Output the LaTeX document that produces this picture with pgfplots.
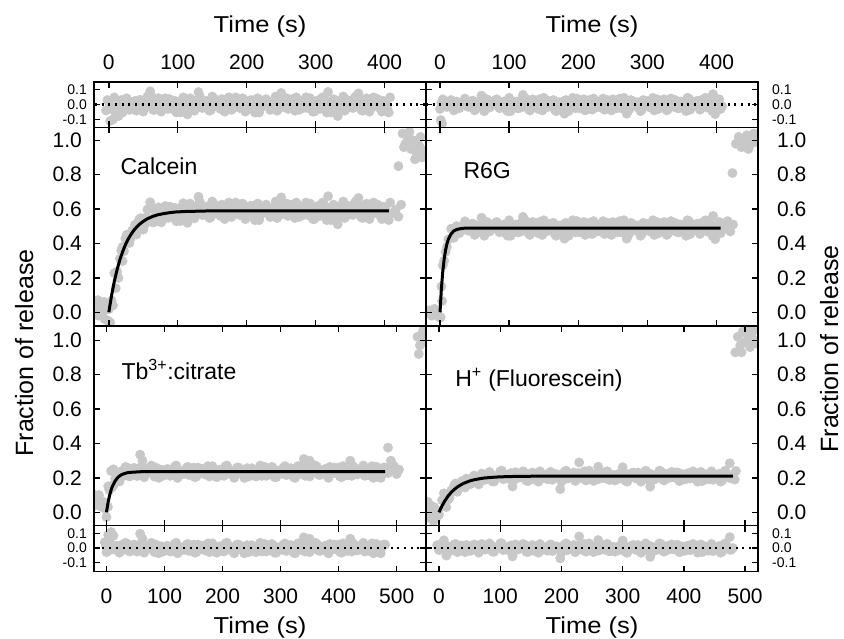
\documentclass[border=0pt]{standalone}
\usepackage{pgfplots}
\pgfplotsset{compat=1.18}
\usepackage{fontspec}
\setmainfont{Liberation Sans}
\definecolor{dotgray}{RGB}{200,200,200}
\tikzset{lab/.style={anchor=base west, font=\fontsize{23bp}{23bp}\selectfont}}
\pgfplotsset{
  panel/.style={
    scale only axis, width=332bp,
    axis line style={line width=1.4bp, black},
    tick style={black, line width=1.4bp},
    major tick length=6bp,
    tick align=inside,
    axis on top,
    clip marker paths=true,
    every tick label/.append style={inner sep=0pt},
    tick label style={font=\fontsize{21bp}{21bp}\selectfont},
  },
  resid/.style={panel, ytick={-0.1,0,0.1}, yticklabels={-0.1,0.0,0.1},
    yticklabel style={font=\fontsize{14bp}{14bp}\selectfont}},
  mainp/.style={panel, ytick={0,0.2,0.4,0.6,0.8,1.0}, yticklabels={0.0,0.2,0.4,0.6,0.8,1.0}},
  dots/.style={dotgray, only marks, mark=*, mark size=4.7bp, mark options={draw=dotgray, fill=dotgray}},
  fit/.style={black, line width=3bp, no marks},
  zero/.style={black, line width=2.4bp, dash pattern=on 2bp off 4.7bp, no marks},
}
\begin{document}
\begin{tikzpicture}
\path[use as bounding box] (0,0) rectangle (844bp,639bp);

% ---------------- titles ----------------
\node[anchor=base, xscale=1.11, font=\fontsize{23bp}{23bp}\selectfont] at (260bp,606.7bp) {Time (s)};
\node[anchor=base, xscale=1.11, font=\fontsize{23bp}{23bp}\selectfont] at (592bp,606.7bp) {Time (s)};
\node[anchor=base, xscale=1.11, font=\fontsize{23bp}{23bp}\selectfont] at (260bp,6bp) {Time (s)};
\node[anchor=base, xscale=1.11, font=\fontsize{23bp}{23bp}\selectfont] at (592bp,6bp) {Time (s)};
\node[anchor=base, rotate=90, inner sep=0pt, font=\fontsize{25bp}{25bp}\selectfont] at (33bp,286bp) {Fraction of release};
\node[anchor=base, rotate=90, inner sep=0pt, font=\fontsize{25bp}{25bp}\selectfont] at (838bp,290bp) {Fraction of release};

% ================= LEFT COLUMN =================
% top residual (Calcein)
\begin{axis}[resid, at={(94bp,557bp)}, anchor=north west, height=45.3bp,
  xmin=-21.5, xmax=460, ymin=-0.154, ymax=0.152,
  xtick={0,100,200,300,400}, xticklabels={0,100,200,300,400},
  xticklabel pos=upper, xticklabel shift=12bp,
  yticklabel pos=left, yticklabel shift=7bp]
\addplot[dots] coordinates {
(0,0.018)(4,-0.030)(8,0.048)(12,-0.012)(16,0.006)(20,-0.054)(24,0.036)(28,0.024)(32,-0.018)(36,0.000)
(40,-0.042)(44,0.030)(48,0.012)(52,-0.024)(56,0.054)(60,-0.006)(64,-0.036)(68,0.018)(72,0.042)(76,-0.048)
(80,0.006)(84,-0.012)(88,0.036)(92,-0.030)(96,0.024)(100,0.000)(104,-0.054)(108,0.048)(112,-0.018)(116,0.012)
(120,0.030)(124,-0.042)(128,0.006)(132,0.054)(136,-0.024)(140,-0.006)(144,0.018)(148,-0.036)(152,0.042)(156,-0.012)
(160,0.000)(164,0.036)(168,-0.048)(172,0.024)(176,-0.030)(180,0.012)(184,0.048)(188,-0.018)(192,-0.006)(196,0.030)
(200,-0.036)(204,0.018)(208,0.006)(212,-0.054)(216,0.042)(220,-0.024)(224,0.012)(228,0.036)(232,-0.012)(236,0.000)
(240,0.024)(244,-0.042)(248,0.054)(252,-0.006)(256,0.018)(260,-0.030)(264,0.030)(268,-0.018)(272,0.048)(276,-0.036)
(280,0.012)(284,0.000)(288,-0.024)(292,0.042)(296,-0.048)(300,0.006)(304,0.030)(308,-0.012)(312,0.036)(316,-0.054)
(320,0.018)(324,-0.006)(328,0.024)(332,-0.036)(336,0.012)(340,0.054)(344,-0.030)(348,0.000)(352,-0.018)(356,0.042)
(360,-0.012)(364,0.036)(368,-0.042)(372,0.006)(376,0.024)(380,-0.024)(384,0.048)(388,-0.006)(392,0.018)(396,-0.048)
(400,0.018)(404,-0.030)(408,0.048)
(2,-0.111)(6,-0.101)(10,-0.075)(-4,-0.040)(-2,0.030)(130,0.084)(250,0.078)(318,0.085)(362,0.075)
(114,-0.067)(332,-0.078)(60,0.089)(20,0.028)(14,-0.078)
(18,0.030)(22,-0.018)(26,0.042)(30,-0.036)(34,0.012)(38,0.024)
(42,-0.018)(46,0.030)(50,-0.048)(54,0.012)(58,-0.006)(62,0.054)(66,-0.036)(70,-0.024)(74,0.018)(78,0.000)
(82,0.042)(86,-0.030)(90,-0.012)(94,0.024)(98,-0.054)
(102,-0.036)(106,0.018)(110,0.006)(114,-0.054)(118,0.042)(122,-0.024)(126,0.012)(130,0.036)(134,-0.012)(138,0.000)
(142,0.024)(146,-0.042)(150,0.054)(154,-0.006)(158,0.018)(162,-0.030)(166,0.030)(170,-0.018)(174,0.048)(178,-0.036)
(182,0.012)(186,0.000)(190,-0.024)(194,0.042)(198,-0.048)(202,0.006)(206,0.030)(210,-0.012)(214,0.036)(218,-0.054)
(222,0.018)(226,-0.006)(230,0.024)(234,-0.036)(238,0.012)(242,0.054)(246,-0.030)(250,0.000)(254,-0.018)(258,0.042)
(262,-0.012)(266,0.036)(270,-0.042)(274,0.006)(278,0.024)(282,-0.024)(286,0.048)(290,-0.006)(294,0.018)(298,-0.048)
(302,0.018)(306,-0.030)(310,0.048)(314,-0.012)(318,0.006)(322,-0.054)(326,0.036)(330,0.024)(334,-0.018)(338,0.000)
(342,-0.042)(346,0.030)(350,0.012)(354,-0.024)(358,0.054)(362,-0.006)(366,-0.036)(370,0.018)(374,0.042)(378,-0.048)
(382,0.006)(386,-0.012)(390,0.036)(394,-0.030)(398,0.024)(402,0.000)(406,-0.054)
};
\addplot[zero] coordinates {(-30,0) (600,0)};
\end{axis}

% Calcein
\begin{axis}[mainp, at={(94bp,511.7bp)}, anchor=north west, height=198.7bp,
  xmin=-21.5, xmax=460, ymin=-0.08, ymax=1.076,
  xtick={0,100,200,300,400}, xticklabels={},
  yticklabel pos=left, yticklabel shift=12bp]
\addplot[dots] coordinates {
(-18,0.030)(-15,-0.020)(-12,0.050)(-9,0.000)(-6,-0.040)(-3,0.020)(-1,-0.050)(-16,0.070)(-7,0.060)
(0,0.018)(4,0.068)(8,0.228)(12,0.236)(16,0.311)(20,0.298)(24,0.428)(28,0.449)(32,0.434)(36,0.475)
(40,0.452)(44,0.540)(48,0.535)(52,0.510)(56,0.598)(60,0.545)(64,0.522)(68,0.581)(72,0.610)(76,0.523)
(80,0.580)(84,0.565)(88,0.615)(92,0.551)(96,0.607)(100,0.584)(104,0.531)(108,0.634)(112,0.568)(116,0.599)
(120,0.617)(124,0.546)(128,0.594)(132,0.642)(136,0.565)(140,0.583)(144,0.607)(148,0.553)(152,0.632)(156,0.578)
(160,0.590)(164,0.626)(168,0.542)(172,0.614)(176,0.560)(180,0.602)(184,0.638)(188,0.572)(192,0.584)(196,0.620)
(200,0.554)(204,0.608)(208,0.596)(212,0.536)(216,0.632)(220,0.566)(224,0.602)(228,0.626)(232,0.578)(236,0.590)
(240,0.614)(244,0.548)(248,0.644)(252,0.584)(256,0.608)(260,0.560)(264,0.620)(268,0.572)(272,0.638)(276,0.554)
(280,0.602)(284,0.590)(288,0.566)(292,0.632)(296,0.542)(300,0.596)(304,0.620)(308,0.578)(312,0.626)(316,0.536)
(320,0.608)(324,0.584)(328,0.614)(332,0.554)(336,0.602)(340,0.644)(344,0.560)(348,0.590)(352,0.572)(356,0.632)
(360,0.578)(364,0.626)(368,0.548)(372,0.596)(376,0.614)(380,0.566)(384,0.638)(388,0.584)(392,0.608)(396,0.542)
(400,0.608)(404,0.560)(408,0.638)(412,0.578)(416,0.596)(420,0.556)(424,0.626)
(130,0.672)(250,0.668)(318,0.675)(362,0.665)(114,0.520)(332,0.512)(60,0.640)(20,0.380)(14,0.200)
(2,-0.060)(6,0.040)(10,0.140)
(18,0.360)(22,0.355)(26,0.451)(30,0.403)(34,0.476)(38,0.509)
(42,0.485)(46,0.547)(50,0.481)(54,0.551)(58,0.542)(62,0.609)(66,0.525)(70,0.542)(74,0.588)(78,0.573)
(82,0.618)(86,0.548)(90,0.568)(94,0.606)(98,0.529)
(102,0.554)(106,0.608)(110,0.596)(114,0.536)(118,0.632)(122,0.566)(126,0.602)(130,0.626)(134,0.578)(138,0.590)
(142,0.614)(146,0.548)(150,0.644)(154,0.584)(158,0.608)(162,0.560)(166,0.620)(170,0.572)(174,0.638)(178,0.554)
(182,0.602)(186,0.590)(190,0.566)(194,0.632)(198,0.542)(202,0.596)(206,0.620)(210,0.578)(214,0.626)(218,0.536)
(222,0.608)(226,0.584)(230,0.614)(234,0.554)(238,0.602)(242,0.644)(246,0.560)(250,0.590)(254,0.572)(258,0.632)
(262,0.578)(266,0.626)(270,0.548)(274,0.596)(278,0.614)(282,0.566)(286,0.638)(290,0.584)(294,0.608)(298,0.542)
(302,0.608)(306,0.560)(310,0.638)(314,0.578)(318,0.596)(322,0.536)(326,0.626)(330,0.614)(334,0.572)(338,0.590)
(342,0.548)(346,0.620)(350,0.602)(354,0.566)(358,0.644)(362,0.584)(366,0.554)(370,0.608)(374,0.632)(378,0.542)
(382,0.596)(386,0.578)(390,0.626)(394,0.560)(398,0.614)(402,0.590)(406,0.536)
(420,0.850)(426,1.040)(430,0.980)(434,1.010)(438,0.950)(442,1.000)(446,0.930)(450,0.970)(454,0.900)
(458,0.940)(428,0.960)(436,1.050)(444,0.890)(452,1.020)
};
\addplot[fit] coordinates {
(0,0)(4,0.098)(8,0.180)(12,0.248)(16,0.305)(20,0.352)(24,0.392)(28,0.425)(32,0.452)(36,0.475)(40,0.494)
(44,0.510)(48,0.523)(52,0.534)(56,0.544)(60,0.551)(64,0.558)(68,0.563)(72,0.568)(76,0.571)(80,0.574)
(88,0.579)(96,0.583)(110,0.586)(120,0.587)(140,0.589)(160,0.590)(406,0.590)
};
\node[lab] at (axis cs:12,0.80) {Calcein};
\end{axis}

% Tb citrate
\begin{axis}[mainp, at={(94bp,313bp)}, anchor=north west, height=199.7bp,
  xmin=-21.5, xmax=550.5, ymin=-0.078, ymax=1.083,
  xtick={0,100,200,300,400,500}, xticklabels={},
  yticklabel pos=left, yticklabel shift=12bp]
\addplot[dots] coordinates {
(-20,0.100)(-17,0.080)(-14,0.050)(-11,0.070)(-8,0.030)(-5,0.060)(-2,0.020)(-19,0.040)(-13,0.100)
(0,-0.028)(5,0.129)(10,0.145)(15,0.195)(20,0.184)(25,0.237)(30,0.212)(35,0.261)(40,0.208)(45,0.241)
(50,0.234)(55,0.219)(60,0.264)(65,0.204)(70,0.240)(75,0.256)(80,0.228)(85,0.260)(90,0.200)(95,0.248)
(100,0.232)(105,0.252)(110,0.212)(115,0.244)(120,0.272)(125,0.216)(130,0.236)(135,0.224)(140,0.264)(145,0.228)
(150,0.260)(155,0.208)(160,0.240)(165,0.252)(170,0.220)(175,0.268)(180,0.232)(185,0.248)(190,0.204)(195,0.248)
(200,0.216)(205,0.268)(210,0.228)(215,0.240)(220,0.200)(225,0.260)(230,0.252)(235,0.224)(240,0.236)(245,0.208)
(250,0.256)(255,0.244)(260,0.220)(265,0.272)(270,0.232)(275,0.212)(280,0.248)(285,0.264)(290,0.204)(295,0.240)
(300,0.228)(305,0.260)(310,0.216)(315,0.252)(320,0.236)(325,0.200)(330,0.268)(335,0.224)(340,0.244)(345,0.256)
(350,0.208)(355,0.240)(360,0.272)(365,0.220)(370,0.232)(375,0.248)(380,0.212)(385,0.264)(390,0.228)(395,0.236)
(400,0.260)(405,0.204)(410,0.252)(415,0.216)(420,0.244)(425,0.268)(430,0.224)(435,0.232)(440,0.256)(445,0.212)
(450,0.248)(455,0.240)(460,0.200)(465,0.264)(470,0.220)(475,0.244)(480,0.260)(485,0.228)(490,0.250)(495,0.270)
(500,0.222)(504,0.248)
(58,0.335)(340,0.310)(350,0.300)(485,0.376)(490,0.300)(8,0.240)(12,0.250)(62,0.300)(420,0.300)(3,0.151)
(2.5,0.032)(7.5,0.152)(12.5,0.160)(17.5,0.211)(22.5,0.179)(27.5,0.233)(32.5,0.263)(37.5,0.214)(42.5,0.237)
(47.5,0.258)(52.5,0.211)(57.5,0.243)
(62.5,0.260)(67.5,0.224)(72.5,0.232)(77.5,0.272)(82.5,0.208)(87.5,0.252)(92.5,0.228)(97.5,0.212)(102.5,0.244)(107.5,0.236)
(112.5,0.220)(117.5,0.264)(122.5,0.200)(127.5,0.240)(132.5,0.224)(137.5,0.256)(142.5,0.216)(147.5,0.248)(152.5,0.204)(157.5,0.260)
(162.5,0.228)(167.5,0.236)(172.5,0.252)(177.5,0.208)(182.5,0.268)(187.5,0.232)(192.5,0.216)(197.5,0.244)(202.5,0.212)(207.5,0.272)
(212.5,0.224)(217.5,0.240)(222.5,0.220)(227.5,0.260)(232.5,0.228)(237.5,0.200)(242.5,0.256)(247.5,0.236)(252.5,0.248)(257.5,0.208)
(262.5,0.244)(267.5,0.212)(272.5,0.264)(277.5,0.232)(282.5,0.220)(287.5,0.252)(292.5,0.204)(297.5,0.240)(302.5,0.224)(307.5,0.268)
(312.5,0.224)(317.5,0.256)(322.5,0.204)(327.5,0.244)(332.5,0.232)(337.5,0.272)(342.5,0.212)(347.5,0.220)(352.5,0.248)(357.5,0.236)
(362.5,0.264)(367.5,0.216)(372.5,0.228)(377.5,0.252)(382.5,0.200)(387.5,0.240)(392.5,0.260)(397.5,0.224)(402.5,0.208)(407.5,0.268)
(412.5,0.232)(417.5,0.244)(422.5,0.212)(427.5,0.256)(432.5,0.220)(437.5,0.236)(442.5,0.272)(447.5,0.248)(452.5,0.216)(457.5,0.268)
(462.5,0.228)(467.5,0.240)(472.5,0.200)(477.5,0.260)
(536,1.020)(540,0.970)(544,1.040)(548,0.990)(538,0.920)(546,1.060)(550,1.000)
};
\addplot[fit] coordinates {
(0,0)(2.5,0.052)(5,0.093)(7.5,0.124)(10,0.149)(15,0.183)(20,0.204)(25,0.217)(30,0.224)(35,0.229)
(40,0.232)(50,0.234)(60,0.236)(480,0.236)
};
\node[lab] at (axis cs:20,0.77) {Tb\textsuperscript{3+}:citrate};
\end{axis}

% bottom residual (Tb)
\begin{axis}[resid, at={(94bp,113.3bp)}, anchor=north west, height=46bp,
  xmin=-21.5, xmax=550.5, ymin=-0.163, ymax=0.154,
  xtick={0,100,200,300,400,500}, xticklabels={0,100,200,300,400,500},
  xticklabel pos=lower, xticklabel shift=16.6bp,
  yticklabel pos=left, yticklabel shift=7bp]
\addplot[dots] coordinates {
(0,-0.028)(5,0.036)(10,-0.004)(15,0.012)(20,-0.020)(25,0.020)(30,-0.012)(35,0.032)(40,-0.024)(45,0.008)
(50,0.000)(55,-0.016)(60,0.028)(65,-0.032)(70,0.004)(75,0.020)(80,-0.008)(85,0.024)(90,-0.036)(95,0.012)
(100,-0.004)(105,0.016)(110,-0.024)(115,0.008)(120,0.036)(125,-0.020)(130,0.000)(135,-0.012)(140,0.028)(145,-0.008)
(150,0.024)(155,-0.028)(160,0.004)(165,0.016)(170,-0.016)(175,0.032)(180,-0.004)(185,0.012)(190,-0.032)(195,0.012)
(200,-0.020)(205,0.032)(210,-0.008)(215,0.004)(220,-0.036)(225,0.024)(230,0.016)(235,-0.012)(240,0.000)(245,-0.028)
(250,0.020)(255,0.008)(260,-0.016)(265,0.036)(270,-0.004)(275,-0.024)(280,0.012)(285,0.028)(290,-0.032)(295,0.004)
(300,-0.008)(305,0.024)(310,-0.020)(315,0.016)(320,0.000)(325,-0.036)(330,0.032)(335,-0.012)(340,0.008)(345,0.020)
(350,-0.028)(355,0.004)(360,0.036)(365,-0.016)(370,-0.004)(375,0.012)(380,-0.024)(385,0.028)(390,-0.008)(395,0.000)
(400,0.024)(405,-0.032)(410,0.016)(415,-0.020)(420,0.008)(425,0.032)(430,-0.012)(435,-0.004)(440,0.020)(445,-0.024)
(450,0.012)(455,0.004)(460,-0.036)(465,0.028)(470,-0.016)(475,0.008)(480,0.024)
(58,0.099)(340,0.074)(350,0.064)(62,0.064)(420,0.064)(8,0.110)(12,0.085)(3,0.090)(-3,0.040)(-1,0.020)
(2.5,-0.020)(7.5,0.028)(12.5,-0.008)(17.5,0.016)(22.5,-0.032)(27.5,0.012)(32.5,0.036)(37.5,-0.016)(42.5,0.004)
(47.5,0.024)(52.5,-0.024)(57.5,0.008)
(62.5,0.024)(67.5,-0.012)(72.5,-0.004)(77.5,0.036)(82.5,-0.028)(87.5,0.016)(92.5,-0.008)(97.5,-0.024)(102.5,0.008)(107.5,0.000)
(112.5,-0.016)(117.5,0.028)(122.5,-0.036)(127.5,0.004)(132.5,-0.012)(137.5,0.020)(142.5,-0.020)(147.5,0.012)(152.5,-0.032)(157.5,0.024)
(162.5,-0.008)(167.5,0.000)(172.5,0.016)(177.5,-0.028)(182.5,0.032)(187.5,-0.004)(192.5,-0.020)(197.5,0.008)(202.5,-0.024)(207.5,0.036)
(212.5,-0.012)(217.5,0.004)(222.5,-0.016)(227.5,0.024)(232.5,-0.008)(237.5,-0.036)(242.5,0.020)(247.5,0.000)(252.5,0.012)(257.5,-0.028)
(262.5,0.008)(267.5,-0.024)(272.5,0.028)(277.5,-0.004)(282.5,-0.016)(287.5,0.016)(292.5,-0.032)(297.5,0.004)(302.5,-0.012)(307.5,0.032)
(312.5,-0.012)(317.5,0.020)(322.5,-0.032)(327.5,0.008)(332.5,-0.004)(337.5,0.036)(342.5,-0.024)(347.5,-0.016)(352.5,0.012)(357.5,0.000)
(362.5,0.028)(367.5,-0.020)(372.5,-0.008)(377.5,0.016)(382.5,-0.036)(387.5,0.004)(392.5,0.024)(397.5,-0.012)(402.5,-0.028)(407.5,0.032)
(412.5,-0.004)(417.5,0.008)(422.5,-0.024)(427.5,0.020)(432.5,-0.016)(437.5,0.000)(442.5,0.036)(447.5,0.012)(452.5,-0.020)(457.5,0.032)
(462.5,-0.008)(467.5,0.004)(472.5,-0.036)(477.5,0.024)
};
\addplot[zero] coordinates {(-30,0) (600,0)};
\end{axis}

% ================= RIGHT COLUMN =================
% top residual (R6G)
\begin{axis}[resid, at={(426bp,557bp)}, anchor=north west, height=45.3bp,
  xmin=-20.3, xmax=460, ymin=-0.154, ymax=0.152,
  xtick={0,100,200,300,400}, xticklabels={0,100,200,300,400},
  xticklabel pos=upper, xticklabel shift=12bp,
  yticklabel pos=right, yticklabel shift=14bp]
\addplot[dots] coordinates {
(0,-0.030)(4,0.035)(8,-0.010)(12,0.000)(16,0.030)(20,-0.040)(24,0.020)(28,-0.025)(32,0.010)(36,0.040)
(40,-0.015)(44,-0.005)(48,0.025)(52,-0.030)(56,0.015)(60,0.005)(64,-0.045)(68,0.035)(72,-0.020)(76,0.010)
(80,0.030)(84,-0.010)(88,0.000)(92,0.020)(96,-0.035)(100,0.045)(104,-0.005)(108,0.015)(112,-0.025)(116,0.025)
(120,-0.015)(124,0.040)(128,-0.030)(132,0.010)(136,0.000)(140,-0.020)(144,0.035)(148,-0.040)(152,0.005)(156,0.025)
(160,-0.010)(164,0.030)(168,-0.045)(172,0.015)(176,-0.005)(180,0.020)(184,-0.030)(188,0.010)(192,0.045)(196,-0.025)
(200,0.000)(204,-0.015)(208,0.035)(212,-0.010)(216,0.030)(220,-0.035)(224,0.005)(228,0.020)(232,-0.020)(236,0.040)
(240,-0.005)(244,0.015)(248,-0.040)(252,0.015)(256,-0.025)(260,0.040)(264,-0.010)(268,0.005)(272,-0.045)(276,0.030)
(280,0.020)(284,-0.015)(288,0.000)(292,-0.035)(296,0.025)(300,0.010)(304,-0.020)(308,0.045)(312,-0.005)(316,-0.030)
(320,0.015)(324,0.035)(328,-0.040)(332,0.005)(336,-0.010)(340,0.030)(344,-0.025)(348,0.020)(352,0.000)(356,-0.045)
(360,0.040)(364,-0.015)(368,0.010)(372,0.025)(376,-0.035)(380,0.005)(384,0.045)(388,-0.020)(392,-0.005)(396,0.015)
(400,-0.030)(404,0.035)(408,-0.010)
(2,0.011)(6,-0.010)(10,-0.017)(120,0.065)(395,0.070)(398,-0.065)(270,-0.062)(60,0.060)(180,-0.062)
(1,-0.105)(3,-0.128)
(42,-0.015)(46,0.025)(50,-0.040)(54,0.010)(58,-0.005)(62,0.045)(66,-0.030)(70,-0.020)(74,0.015)(78,0.000)
(82,0.035)(86,-0.025)(90,-0.010)(94,0.020)(98,-0.045)
(102,-0.045)(106,0.000)(110,0.020)(114,-0.025)(118,0.030)(122,-0.010)(126,0.005)(130,-0.040)(134,0.035)(138,0.015)
(142,-0.030)(146,-0.005)(150,0.045)(154,-0.020)(158,0.010)(162,0.025)(166,-0.035)(170,0.000)(174,-0.015)(178,0.020)
(182,0.030)(186,-0.045)(190,0.005)(194,-0.010)(198,0.040)(202,-0.025)(206,0.015)(210,-0.040)(214,0.015)(218,-0.005)
(222,0.040)(226,-0.020)(230,0.020)(234,0.005)(238,-0.035)(242,0.030)(246,-0.010)(250,0.035)(254,-0.015)(258,0.000)
(262,-0.025)(266,0.045)(270,0.010)(274,-0.030)(278,0.020)(282,-0.005)(286,0.015)(290,-0.045)(294,0.030)(298,-0.010)
(302,0.025)(306,0.005)(310,-0.040)(314,0.035)(318,-0.020)(322,0.000)(326,0.010)(330,-0.030)(334,0.040)(338,-0.015)
(342,0.025)(346,-0.025)(350,0.015)(354,-0.005)(358,0.045)(362,-0.035)(366,0.020)(370,0.000)(374,-0.010)(378,0.030)
(382,0.010)(386,-0.020)(390,0.035)(394,-0.045)(398,0.005)(402,0.015)(406,-0.030)
};
\addplot[zero] coordinates {(-30,0) (600,0)};
\end{axis}

% R6G
\begin{axis}[mainp, at={(426bp,511.7bp)}, anchor=north west, height=198.7bp,
  xmin=-20.3, xmax=460, ymin=-0.08, ymax=1.076,
  xtick={0,100,200,300,400}, xticklabels={},
  yticklabel pos=right, yticklabel shift=19bp]
\addplot[dots] coordinates {
(-16,0.010)(-12,-0.020)(-8,0.020)(-4,0.000)(-1,-0.030)
(0,-0.030)(4,0.273)(8,0.351)(12,0.424)(16,0.486)(20,0.433)(24,0.501)(28,0.460)(32,0.498)(36,0.529)
(40,0.475)(44,0.485)(48,0.515)(52,0.460)(56,0.505)(60,0.495)(64,0.445)(68,0.525)(72,0.470)(76,0.500)
(80,0.520)(84,0.480)(88,0.490)(92,0.510)(96,0.455)(100,0.535)(104,0.485)(108,0.505)(112,0.465)(116,0.515)
(120,0.475)(124,0.530)(128,0.460)(132,0.500)(136,0.490)(140,0.470)(144,0.525)(148,0.450)(152,0.495)(156,0.515)
(160,0.480)(164,0.520)(168,0.445)(172,0.505)(176,0.485)(180,0.510)(184,0.460)(188,0.500)(192,0.535)(196,0.465)
(200,0.490)(204,0.475)(208,0.525)(212,0.480)(216,0.520)(220,0.455)(224,0.495)(228,0.510)(232,0.470)(236,0.530)
(240,0.485)(244,0.505)(248,0.450)(252,0.505)(256,0.465)(260,0.530)(264,0.480)(268,0.495)(272,0.445)(276,0.520)
(280,0.510)(284,0.475)(288,0.490)(292,0.455)(296,0.515)(300,0.500)(304,0.470)(308,0.535)(312,0.485)(316,0.460)
(320,0.505)(324,0.525)(328,0.450)(332,0.495)(336,0.480)(340,0.520)(344,0.465)(348,0.510)(352,0.490)(356,0.445)
(360,0.530)(364,0.475)(368,0.500)(372,0.515)(376,0.455)(380,0.495)(384,0.535)(388,0.470)(392,0.485)(396,0.505)
(400,0.460)(404,0.525)(408,0.480)(412,0.500)(416,0.530)(420,0.470)(424,0.510)
(2,0.150)(6,0.300)(10,0.380)(120,0.555)(395,0.560)(398,0.425)(270,0.428)(60,0.550)(180,0.428)
(1,-0.030)(3,0.065)
(42,0.475)(46,0.515)(50,0.450)(54,0.500)(58,0.485)(62,0.535)(66,0.460)(70,0.470)(74,0.505)(78,0.490)
(82,0.525)(86,0.465)(90,0.480)(94,0.510)(98,0.445)
(102,0.445)(106,0.490)(110,0.510)(114,0.465)(118,0.520)(122,0.480)(126,0.495)(130,0.450)(134,0.525)(138,0.505)
(142,0.460)(146,0.485)(150,0.535)(154,0.470)(158,0.500)(162,0.515)(166,0.455)(170,0.490)(174,0.475)(178,0.510)
(182,0.520)(186,0.445)(190,0.495)(194,0.480)(198,0.530)(202,0.465)(206,0.505)(210,0.450)(214,0.505)(218,0.485)
(222,0.530)(226,0.470)(230,0.510)(234,0.495)(238,0.455)(242,0.520)(246,0.480)(250,0.525)(254,0.475)(258,0.490)
(262,0.465)(266,0.535)(270,0.500)(274,0.460)(278,0.510)(282,0.485)(286,0.505)(290,0.445)(294,0.520)(298,0.480)
(302,0.515)(306,0.495)(310,0.450)(314,0.525)(318,0.470)(322,0.490)(326,0.500)(330,0.460)(334,0.530)(338,0.475)
(342,0.515)(346,0.465)(350,0.505)(354,0.485)(358,0.535)(362,0.455)(366,0.510)(370,0.490)(374,0.480)(378,0.520)
(382,0.500)(386,0.470)(390,0.525)(394,0.445)(398,0.495)(402,0.505)(406,0.460)
(423,0.810)(428,0.980)(432,1.020)(436,0.960)(440,1.000)(444,1.030)(448,0.970)(452,1.010)(456,0.990)
(460,1.020)(434,1.000)(446,0.950)(454,1.040)
};
\addplot[fit] coordinates {
(0,0)(2,0.140)(4,0.238)(6,0.310)(8,0.361)(10,0.398)(12,0.424)(16,0.456)(20,0.473)(24,0.481)(28,0.485)
(32,0.488)(36,0.489)(40,0.490)(406,0.490)
};
\node[lab] at (axis cs:29,0.78) {R6G};
\end{axis}

% H+ (Fluorescein)
\begin{axis}[mainp, at={(426bp,313bp)}, anchor=north west, height=199.7bp,
  xmin=-21.2, xmax=521, ymin=-0.078, ymax=1.083,
  xtick={0,100,200,300,400,500}, xticklabels={},
  yticklabel pos=right, yticklabel shift=19bp]
\addplot[dots] coordinates {
(-20,0.020)(-17,-0.030)(-14,0.040)(-11,-0.010)(-8,0.030)(-5,-0.040)(-2,0.010)(-18,0.060)(-9,-0.050)
(0,-0.014)(5,0.070)(10,0.065)(15,0.074)(20,0.127)(25,0.158)(30,0.119)(35,0.162)(40,0.161)(45,0.196)
(50,0.164)(55,0.201)(60,0.191)(65,0.162)(70,0.225)(75,0.189)(80,0.208)(85,0.221)(90,0.179)(95,0.209)
(100,0.238)(105,0.192)(110,0.203)(115,0.218)(120,0.187)(125,0.233)(130,0.201)(135,0.209)(140,0.230)(145,0.181)
(150,0.224)(155,0.192)(160,0.217)(165,0.238)(170,0.199)(175,0.206)(180,0.228)(185,0.189)(190,0.221)(195,0.214)
(200,0.178)(205,0.235)(210,0.196)(215,0.217)(220,0.231)(225,0.203)(230,0.210)(235,0.224)(240,0.185)(245,0.242)
(250,0.206)(255,0.221)(260,0.192)(265,0.228)(270,0.199)(275,0.238)(280,0.189)(285,0.217)(290,0.210)(295,0.196)
(300,0.235)(305,0.182)(310,0.214)(315,0.228)(320,0.203)(325,0.231)(330,0.178)(335,0.221)(340,0.206)(345,0.224)
(350,0.189)(355,0.217)(360,0.242)(365,0.192)(370,0.210)(375,0.199)(380,0.235)(385,0.203)(390,0.231)(395,0.185)
(400,0.214)(405,0.224)(410,0.196)(415,0.238)(420,0.206)(425,0.221)(430,0.182)(435,0.221)(440,0.192)(445,0.238)
(450,0.203)(455,0.214)(460,0.178)(465,0.231)(470,0.224)(475,0.199)(480,0.210)(483,0.190)(485,0.240)
(229,0.290)(198,0.135)(345,0.149)(475,0.285)(260,0.265)(120,0.150)(300,0.262)(8,0.110)(12,0.030)
(12.5,0.097)(17.5,0.085)(22.5,0.132)(27.5,0.168)(32.5,0.142)(37.5,0.181)(42.5,0.144)(47.5,0.183)
(52.5,0.166)(57.5,0.214)(62.5,0.193)(67.5,0.182)(72.5,0.219)(77.5,0.193)(82.5,0.234)(87.5,0.179)
(102.5,0.242)(107.5,0.210)(112.5,0.196)(117.5,0.228)(122.5,0.189)(127.5,0.217)(132.5,0.206)(137.5,0.238)(142.5,0.185)(147.5,0.199)
(152.5,0.231)(157.5,0.214)(162.5,0.178)(167.5,0.224)(172.5,0.203)(177.5,0.192)(182.5,0.235)(187.5,0.210)(192.5,0.221)(197.5,0.196)
(202.5,0.189)(207.5,0.242)(212.5,0.206)(217.5,0.217)(222.5,0.182)(227.5,0.228)(232.5,0.199)(237.5,0.238)(242.5,0.199)(247.5,0.214)
(252.5,0.182)(257.5,0.224)(262.5,0.196)(267.5,0.206)(272.5,0.235)(277.5,0.189)(282.5,0.217)(287.5,0.185)(292.5,0.221)(297.5,0.210)
(302.5,0.228)(307.5,0.178)(312.5,0.203)(317.5,0.231)(322.5,0.196)(327.5,0.214)(332.5,0.199)(337.5,0.242)(342.5,0.189)(347.5,0.217)
(352.5,0.192)(357.5,0.206)(362.5,0.238)(367.5,0.185)(372.5,0.224)(377.5,0.210)(382.5,0.203)(387.5,0.231)(392.5,0.182)(397.5,0.221)
(402.5,0.192)(407.5,0.228)(412.5,0.199)(417.5,0.214)(422.5,0.178)(427.5,0.235)(432.5,0.196)(437.5,0.210)(442.5,0.217)(447.5,0.189)
(452.5,0.203)(457.5,0.224)(462.5,0.185)(467.5,0.242)(472.5,0.206)(477.5,0.199)
(484,0.930)(488,1.020)(492,0.970)(496,1.050)(500,0.990)(504,1.030)(508,0.960)(512,1.010)(516,1.060)
(520,0.980)(494,0.930)(506,1.070)
};
\addplot[fit] coordinates {
(0,0)(5,0.038)(10,0.069)(15,0.095)(20,0.116)(25,0.133)(30,0.147)(35,0.158)(40,0.168)(45,0.175)(50,0.182)
(55,0.187)(60,0.191)(65,0.194)(70,0.197)(75,0.200)(80,0.201)(90,0.204)(100,0.206)(120,0.208)(140,0.209)
(160,0.210)(480,0.210)
};
\node[lab] at (axis cs:21,0.73) {H\textsuperscript{+} (Fluorescein)};
\end{axis}

% bottom residual (H+)
\begin{axis}[resid, at={(426bp,113.3bp)}, anchor=north west, height=46bp,
  xmin=-21.2, xmax=521, ymin=-0.163, ymax=0.154,
  xtick={0,100,200,300,400,500}, xticklabels={0,100,200,300,400,500},
  xticklabel pos=lower, xticklabel shift=16.6bp,
  yticklabel pos=right, yticklabel shift=14bp]
\addplot[dots] coordinates {
(0,-0.014)(5,0.032)(10,-0.004)(15,-0.021)(20,0.011)(25,0.025)(30,-0.028)(35,0.004)(40,-0.007)(45,0.021)
(50,-0.018)(55,0.014)(60,0.000)(65,-0.032)(70,0.028)(75,-0.011)(80,0.007)(85,0.018)(90,-0.025)(95,0.004)
(100,0.032)(105,-0.014)(110,-0.004)(115,0.011)(120,-0.021)(125,0.025)(130,-0.007)(135,0.000)(140,0.021)(145,-0.028)
(150,0.014)(155,-0.018)(160,0.007)(165,0.028)(170,-0.011)(175,-0.004)(180,0.018)(185,-0.021)(190,0.011)(195,0.004)
(200,-0.032)(205,0.025)(210,-0.014)(215,0.007)(220,0.021)(225,-0.007)(230,0.000)(235,0.014)(240,-0.025)(245,0.032)
(250,-0.004)(255,0.011)(260,-0.018)(265,0.018)(270,-0.011)(275,0.028)(280,-0.021)(285,0.007)(290,0.000)(295,-0.014)
(300,0.025)(305,-0.028)(310,0.004)(315,0.018)(320,-0.007)(325,0.021)(330,-0.032)(335,0.011)(340,-0.004)(345,0.014)
(350,-0.021)(355,0.007)(360,0.032)(365,-0.018)(370,0.000)(375,-0.011)(380,0.025)(385,-0.007)(390,0.021)(395,-0.025)
(400,0.004)(405,0.014)(410,-0.014)(415,0.028)(420,-0.004)(425,0.011)(430,-0.028)(435,0.011)(440,-0.018)(445,0.028)
(450,-0.007)(455,0.004)(460,-0.032)(465,0.021)(470,0.014)(475,-0.011)(480,0.000)
(229,0.080)(198,-0.071)(345,-0.061)(475,0.075)(260,0.055)(120,-0.058)(300,0.052)(8,0.053)(12,-0.052)
(-3,0.020)(-1,0.010)
(12.5,0.014)(17.5,-0.021)(22.5,0.007)(27.5,0.028)(32.5,-0.011)(37.5,0.018)(42.5,-0.028)(47.5,0.004)
(52.5,-0.018)(57.5,0.025)(62.5,0.000)(67.5,-0.014)(72.5,0.021)(77.5,-0.007)(82.5,0.032)(87.5,-0.025)
(102.5,0.032)(107.5,0.000)(112.5,-0.014)(117.5,0.018)(122.5,-0.021)(127.5,0.007)(132.5,-0.004)(137.5,0.028)(142.5,-0.025)(147.5,-0.011)
(152.5,0.021)(157.5,0.004)(162.5,-0.032)(167.5,0.014)(172.5,-0.007)(177.5,-0.018)(182.5,0.025)(187.5,0.000)(192.5,0.011)(197.5,-0.014)
(202.5,-0.021)(207.5,0.032)(212.5,-0.004)(217.5,0.007)(222.5,-0.028)(227.5,0.018)(232.5,-0.011)(237.5,0.028)(242.5,-0.011)(247.5,0.004)
(252.5,-0.028)(257.5,0.014)(262.5,-0.014)(267.5,-0.004)(272.5,0.025)(277.5,-0.021)(282.5,0.007)(287.5,-0.025)(292.5,0.011)(297.5,0.000)
(302.5,0.018)(307.5,-0.032)(312.5,-0.007)(317.5,0.021)(322.5,-0.014)(327.5,0.004)(332.5,-0.011)(337.5,0.032)(342.5,-0.021)(347.5,0.007)
(352.5,-0.018)(357.5,-0.004)(362.5,0.028)(367.5,-0.025)(372.5,0.014)(377.5,0.000)(382.5,-0.007)(387.5,0.021)(392.5,-0.028)(397.5,0.011)
(402.5,-0.018)(407.5,0.018)(412.5,-0.011)(417.5,0.004)(422.5,-0.032)(427.5,0.025)(432.5,-0.014)(437.5,0.000)(442.5,0.007)(447.5,-0.021)
(452.5,-0.007)(457.5,0.014)(462.5,-0.025)(467.5,0.032)(472.5,-0.004)(477.5,-0.011)
};
\addplot[zero] coordinates {(-30,0) (600,0)};
\end{axis}
\end{tikzpicture}
\end{document}
